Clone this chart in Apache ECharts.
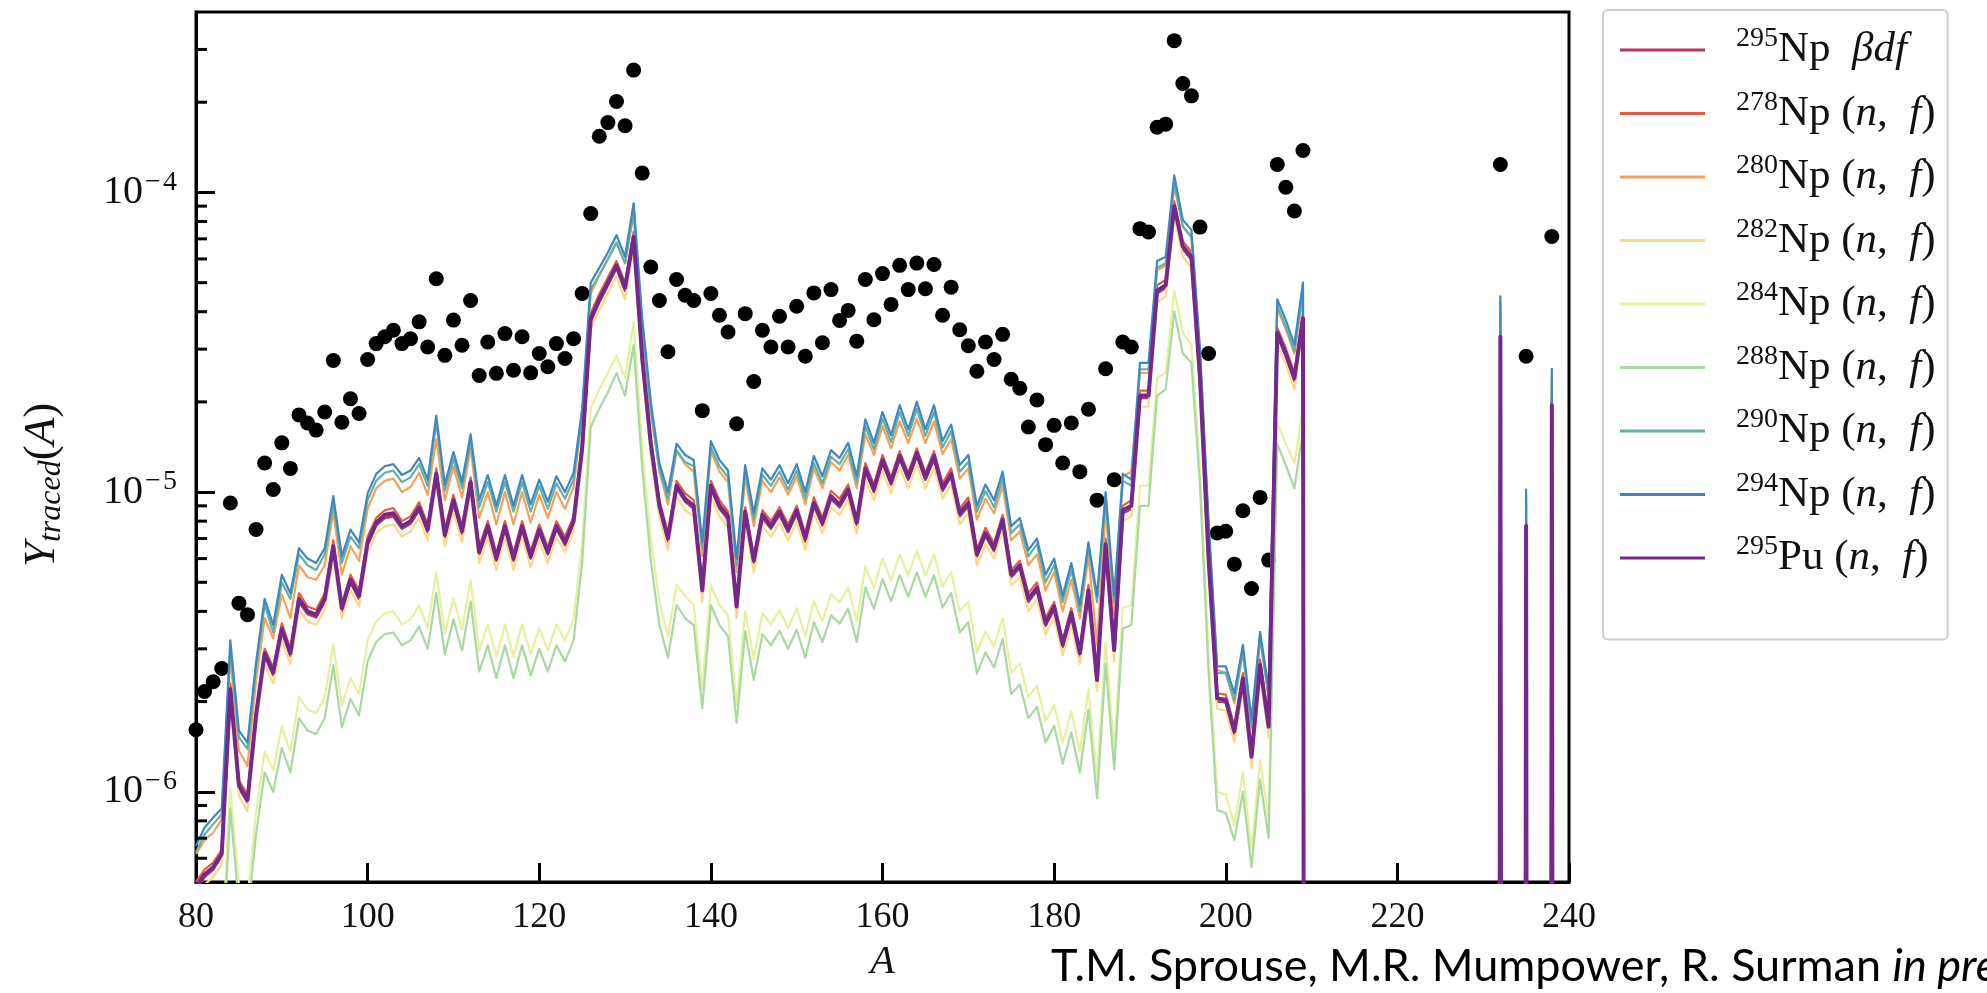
<!DOCTYPE html>
<html>
<head>
<meta charset="utf-8">
<title>Traced fission yields</title>
<script src="https://cdn.jsdelivr.net/npm/echarts@6/dist/echarts.min.js"></script>
<style>
  html, body { margin: 0; padding: 0; background: #fff; }
  #main { width: 1987px; height: 993px; }
</style>
</head>
<body>
<div id="main"></div>
<script>
// mass number A for the line series (210..231 is empty, lines drop to zero there)
const massNumbers = [
  80,81,82,83,84,85,86,87,88,89,
  90,91,92,93,94,95,96,97,98,99,
  100,101,102,103,104,105,106,107,108,109,
  110,111,112,113,114,115,116,117,118,119,
  120,121,122,123,124,125,126,127,128,129,
  130,131,132,133,134,135,136,137,138,139,
  140,141,142,143,144,145,146,147,148,149,
  150,151,152,153,154,155,156,157,158,159,
  160,161,162,163,164,165,166,167,168,169,
  170,171,172,173,174,175,176,177,178,179,
  180,181,182,183,184,185,186,187,188,189,
  190,191,192,193,194,195,196,197,198,199,
  200,201,202,203,204,205,206,207,208,209,
  210,231,232,233,234,235,236,237,238,239,240
];

// traced yields, in units of 1e-6 (0 = nothing)
const yNp295bdf = [
  0.47,0.52,0.55,0.61,2.15,1.03,0.92,1.76,2.84,2.45,
  3.43,2.84,4.3,3.92,3.82,4.3,6.45,4.0,5.0,4.4,
  6.65,7.75,8.2,8.3,7.55,7.85,8.7,7.35,11.3,7.05,
  9.2,7.25,10.6,6.2,7.55,5.9,7.55,5.9,7.55,6.0,
  7.35,6.2,7.55,6.65,7.85,13.7,37,43,49,56,
  47,69.5,27.4,14.2,8.8,6.85,10.3,9.3,8.8,4.6,
  10.3,8.8,8.1,4.07,8.4,5.8,8.2,7.55,8.4,7.35,
  8.5,6.85,9.0,7.75,9.5,8.9,10.0,7.75,11.8,10.0,
  12.5,10.6,12.9,11.0,13.2,11.0,12.9,10.1,11.3,8.3,
  9.0,6.1,7.15,6.35,7.95,5.2,5.6,4.3,4.7,3.58,
  4.07,3.04,3.87,2.84,4.6,2.31,6.55,2.91,8.5,8.8,
  20.6,20.6,46,48,88,64.7,59.8,23.5,5.9,2.0,
  1.99,1.56,2.34,1.28,2.6,1.62,33.3,28.4,23.5,37.2,
  0,0,32.3,0,0,7.5,0,0,20.5,0,0
];
const yNp278 = [
  0.5,0.55,0.58,0.64,2.3,1.09,0.98,1.87,3.0,2.6,
  3.65,3.0,4.6,4.15,4.05,4.6,6.9,4.25,5.3,4.7,
  7.1,8.2,8.7,8.85,8.0,8.3,9.25,7.8,12,7.5,
  9.8,7.7,11.2,6.55,8.0,6.25,8.0,6.25,8.0,6.35,
  7.8,6.55,8.0,7.1,8.3,14.6,39.5,45.8,52,59,
  50,74,29,15.1,9.4,7.3,10.9,9.9,9.4,4.9,
  10.9,9.4,8.6,4.3,8.9,6.1,8.7,8.0,8.9,7.8,
  9.0,7.3,9.6,8.2,10.1,9.5,10.6,8.2,12.5,10.6,
  13.3,11.2,13.7,11.6,14,11.6,13.7,10.7,12,8.8,
  9.6,6.45,7.6,6.75,8.4,5.5,5.9,4.6,5.0,3.8,
  4.3,3.2,4.1,3.0,4.9,2.45,7.0,3.1,9.0,9.4,
  21.8,21.8,49,51,93.5,68.6,63.4,25,6.2,2.13,
  2.11,1.65,2.49,1.36,2.76,1.72,35.4,30.2,25,39.5,
  0,0,34,0,0,8.0,0,0,19.8,0,0
];
const yNp280 = [
  0.62,0.69,0.73,0.81,2.85,1.37,1.22,2.35,3.8,3.25,
  4.55,3.8,5.7,5.2,5.1,5.7,8.6,5.3,6.6,5.9,
  8.8,10.3,10.9,11.1,10.0,10.4,11.6,9.8,15,9.4,
  12.2,9.6,14,8.2,10.0,7.8,10.0,7.8,10.0,7.9,
  9.8,8.2,10.0,8.8,10.4,18,46,53,60,68,
  58,85,35,18.5,11.7,9.1,13.7,12.4,11.7,6.1,
  13.7,11.7,10.8,5.4,11.2,7.7,10.9,10.0,11.2,9.8,
  11.3,9.1,12.0,10.3,12.6,11.8,13.3,10.3,15.6,13.3,
  16.6,14.0,17.2,14.6,17.6,14.6,17.2,13.4,15.0,11.1,
  12.0,8.1,9.5,8.5,10.5,6.9,7.4,5.7,6.2,4.7,
  5.4,4.0,5.1,3.8,6.1,3.1,8.7,3.9,11.3,11.7,
  25,25,55,57,105,77,71,28.5,7.5,2.55,
  2.5,1.97,2.95,1.62,3.3,2.05,41,35,29,46,
  0,0,40,0,0,9.3,0,0,23.5,0,0
];
const yNp282 = [
  0.44,0.49,0.52,0.57,2.0,0.97,0.86,1.65,2.67,2.3,
  3.2,2.67,4.05,3.7,3.6,4.05,6.1,3.8,4.7,4.15,
  6.25,7.3,7.7,7.8,7.1,7.4,8.2,6.9,10.6,6.6,
  8.6,6.8,9.9,5.8,7.1,5.5,7.1,5.5,7.1,5.6,
  6.9,5.8,7.1,6.3,7.4,12.9,35,40.5,46,52.5,
  44,65,25.8,13.3,8.3,6.4,9.7,8.7,8.3,4.3,
  9.7,8.3,7.6,3.8,7.9,5.4,7.7,7.1,7.9,6.9,
  8.0,6.4,8.5,7.3,8.9,8.4,9.4,7.3,11.0,9.4,
  11.8,9.9,12.1,10.3,12.4,10.3,12.1,9.5,10.6,7.8,
  8.5,5.7,6.7,6.0,7.5,4.9,5.2,4.0,4.4,3.35,
  3.8,2.85,3.6,2.67,4.3,2.17,6.2,2.73,8.0,8.3,
  19.3,19.3,43,45,83,61,56,22,5.5,1.89,
  1.87,1.46,2.2,1.2,2.44,1.52,31,26.7,22,35,
  0,0,30,0,0,7.1,0,0,18,0,0
];
const yNp284 = [
  0.23,0.25,0.26,0.29,1.03,0.49,0.44,0.85,1.36,1.18,
  1.65,1.36,2.07,1.88,1.83,2.07,3.1,1.93,2.4,2.12,
  3.2,3.7,3.95,4.0,3.62,3.76,4.18,3.52,5.4,3.38,
  4.42,3.48,5.08,2.96,3.62,2.82,3.62,2.82,3.62,2.87,
  3.52,2.96,3.62,3.2,3.76,6.8,19,22,25,28.5,
  24,37,14,7.0,4.3,3.3,4.9,4.5,4.2,2.2,
  4.9,4.2,3.9,1.95,4.0,2.77,3.95,3.62,4.04,3.52,
  4.1,3.3,4.32,3.71,4.56,4.28,4.8,3.71,5.64,4.8,
  6.0,5.08,6.2,5.26,6.35,5.26,6.2,4.84,5.4,4.0,
  4.32,2.91,3.43,3.05,3.8,2.5,2.68,2.07,2.26,1.72,
  1.95,1.46,1.86,1.36,2.2,1.11,3.15,1.4,4.1,4.2,
  10.5,10.5,24,25,47,34,31,12,2.9,1.0,
  0.98,0.77,1.16,0.64,1.28,0.8,17,14.5,12.5,19,
  0,0,16.5,0,0,3.8,0,0,9.7,0,0
];
const yNp288 = [
  0.19,0.21,0.22,0.25,0.88,0.42,0.38,0.72,1.16,1.0,
  1.4,1.16,1.76,1.6,1.56,1.76,2.64,1.64,2.04,1.8,
  2.72,3.16,3.36,3.4,3.08,3.2,3.56,3.0,4.6,2.88,
  3.76,2.96,4.32,2.52,3.08,2.4,3.08,2.4,3.08,2.44,
  3.0,2.52,3.08,2.72,3.2,5.8,16.5,19,21.5,25,
  21,31,12,5.9,3.6,2.8,4.2,3.8,3.6,1.9,
  4.2,3.6,3.3,1.7,3.44,2.36,3.36,3.08,3.44,3.0,
  3.48,2.8,3.68,3.16,3.88,3.64,4.08,3.16,4.8,4.08,
  5.12,4.32,5.28,4.48,5.4,4.48,5.28,4.12,4.6,3.4,
  3.68,2.48,2.92,2.6,3.24,2.12,2.28,1.76,1.92,1.46,
  1.66,1.24,1.58,1.16,1.88,0.95,2.68,1.19,3.5,3.6,
  9.0,9.0,21,22,40,29,27,10.5,2.5,0.87,
  0.85,0.69,1.0,0.56,1.1,0.7,14.5,12.3,10.3,16,
  0,0,14.5,0,0,3.3,0,0,8.4,0,0
];
const yNp290 = [
  0.63,0.72,0.78,0.84,3.0,1.52,1.39,2.6,4.2,3.4,
  5.0,4.4,6.2,5.7,5.5,6.2,9.2,5.8,7.1,6.5,
  9.4,10.9,11.6,11.8,10.8,11.2,12.4,10.5,17.1,10.1,
  12.9,10.3,14.8,8.9,10.8,8.6,10.8,8.6,10.8,8.6,
  10.5,8.8,10.7,9.5,11.0,18,47.5,53,60,68,
  58,87,36,19,11.9,9.5,13.8,12.6,12.2,6.5,
  14.1,12.2,11.2,5.7,11.7,8.1,11.4,10.5,11.7,10.2,
  11.8,9.5,12.5,10.7,13.1,12.4,13.9,10.7,16.6,13.9,
  17.6,14.7,18.5,15.4,19,15.4,18.5,14.1,16.0,11.7,
  12.6,8.6,10.1,8.9,11.1,7.3,7.8,6.1,6.7,5.0,
  5.7,4.3,5.5,4.0,6.5,4.3,9.5,4.3,10.9,10.5,
  25.7,25.7,56,58,108,77,71,28.5,7.6,2.49,
  2.49,2.02,2.94,1.65,3.25,2.09,42,35.6,29.5,47.5,
  0,0,43,0,0,9.7,0,0,24.5,0,0
];
const yNp294 = [
  0.66,0.76,0.82,0.88,3.2,1.6,1.46,2.7,4.4,3.6,
  5.3,4.6,6.5,6.0,5.8,6.5,9.7,6.1,7.5,6.8,
  9.9,11.5,12.2,12.4,11.4,11.8,13.0,11.0,18.0,10.6,
  13.6,10.8,15.6,9.4,11.4,9.0,11.4,9.0,11.4,9.1,
  11.0,9.3,11.3,10.0,11.6,19,50,56,63,72,
  61,92,38,20,12.5,10,14.5,13.3,12.8,6.8,
  14.8,12.8,11.8,6.0,12.3,8.5,12.0,11.0,12.3,10.7,
  12.4,10.0,13.2,11.3,13.8,13.0,14.6,11.3,17.5,14.6,
  18.5,15.5,19.5,16.2,20,16.2,19.5,14.8,16.8,12.3,
  13.3,9.0,10.6,9.4,11.7,7.7,8.2,6.4,7.0,5.3,
  6.0,4.5,5.8,4.2,6.8,4.5,10,4.5,11.5,11,
  27,27,59,61,114,81,75,30,8.0,2.62,
  2.62,2.13,3.09,1.74,3.42,2.2,44,37.5,31,50,
  0,0,45,0,0,10.2,0,0,25.8,0,0
];
const yPu295 = [
  0.48,0.53,0.56,0.62,2.2,1.05,0.94,1.8,2.9,2.5,
  3.5,2.9,4.4,4.0,3.9,4.4,6.6,4.1,5.1,4.5,
  6.8,7.9,8.4,8.5,7.7,8.0,8.9,7.5,11.5,7.2,
  9.4,7.4,10.8,6.3,7.7,6.0,7.7,6.0,7.7,6.1,
  7.5,6.3,7.7,6.8,8.0,14,38,44,50,57,
  48,71,28,14.5,9.0,7.0,10.5,9.5,9.0,4.7,
  10.5,9.0,8.3,4.15,8.6,5.9,8.4,7.7,8.6,7.5,
  8.7,7.0,9.2,7.9,9.7,9.1,10.2,7.9,12,10.2,
  12.8,10.8,13.2,11.2,13.5,11.2,13.2,10.3,11.5,8.5,
  9.2,6.2,7.3,6.5,8.1,5.3,5.7,4.4,4.8,3.65,
  4.15,3.1,3.95,2.9,4.7,2.36,6.7,2.97,8.7,9.0,
  21,21,47,49,90,66,61,24,6.0,2.05,
  2.03,1.59,2.39,1.31,2.65,1.65,34,29,24,38,
  0,0,33,0,0,7.7,0,0,19.5,0,0
];

// solar r-process residuals (black dots), units of 1e-6
const solarMass = [
  80,81,82,83,84,85,86,87,88,89,
  90,91,92,93,94,95,96,97,98,99,
  100,101,102,103,104,105,106,107,108,109,
  110,111,112,113,114,115,116,117,118,119,
  120,121,122,123,124,125,126,127,128,129,
  130,131,132,133,134,135,136,137,138,139,
  140,141,142,143,144,145,146,147,148,149,
  150,151,152,153,154,155,156,157,158,159,
  160,161,162,163,164,165,166,167,168,169,
  170,171,172,173,174,175,176,177,178,179,
  180,181,182,183,184,185,186,187,188,189,
  190,191,192,193,194,195,196,197,198,199,
  200,201,202,203,204,205,206,207,208,209,
  232,235,238
];
const solarYield = [
  1.61,2.16,2.33,2.58,9.2,4.26,3.9,7.5,12.5,10.2,
  14.6,12,18.1,17,16.1,18.5,27.5,17.1,20.5,18.3,
  27.7,31.3,33,34.7,31.3,32.5,37,30.5,51.5,28.6,
  37.5,30.9,43.6,24.5,31.7,24.9,33.8,25.5,33,25,
  29,26.2,31.3,27.9,32.5,46,85,154,171,201,
  167,256,116,56.4,43.6,29.4,51.2,45.4,43.6,18.7,
  46,38.9,34.2,16.9,39.4,23.4,34.7,30.5,38.6,30.5,
  41.7,28.4,46.2,31.5,47.4,37.4,40.4,31.9,51.2,37.6,
  53.6,42.3,57.1,47.4,58.1,47.7,57.5,38.9,48.3,34.8,
  30.8,25.3,31.7,27.7,33.6,23.8,22.2,16.5,20.3,14.4,
  16.7,12.5,17,11.7,18.9,9.4,25.8,11,31.7,30.5,
  75.7,73.8,165,169,321,231,210,76.6,29,7.3,
  7.4,5.75,8.67,4.77,9.6,5.93,124,104,86.7,138,
  124,28.4,71.3
];

// minor ticks of the log axis
const minorTickValues = [
  6e-7,7e-7,8e-7,9e-7,
  2e-6,3e-6,4e-6,5e-6,6e-6,7e-6,8e-6,9e-6,
  2e-5,3e-5,4e-5,5e-5,6e-5,7e-5,8e-5,9e-5,
  2e-4,3e-4
];

const isoMass = ['295','278','280','282','284','288','290','294','295'];
const isoElem = ['Np','Np','Np','Np','Np','Np','Np','Np','Pu'];
const isoReac = ['bdf','nf','nf','nf','nf','nf','nf','nf','nf'];
const lineData = [yNp295bdf, yNp278, yNp280, yNp282, yNp284, yNp288, yNp290, yNp294, yPu295];
const lineColors = ['#b8365c','#e45b3c','#f7a05a','#fbd98a','#e7f19d','#a9d8a2','#63b0a6','#3f88bf','#74288c'];
const lineWidths = [2.6, 2.2, 2.2, 2.2, 2.2, 2.2, 2.2, 2.2, 4];

const SERIF = "'Liberation Serif', 'DejaVu Serif', serif";
const INK = '#111';

const seriesNames = isoMass.map((m, i) => m + isoElem[i] + ' ' + isoReac[i]);
// zero yield sits far below the log axis, like a clipped value
const toYield = v => (v > 0 ? v * 1e-6 : 1e-30);

const lineSeries = lineData.map((arr, i) => ({
  name: seriesNames[i],
  type: 'line',
  data: arr.map((v, k) => [massNumbers[k], toYield(v)]),
  symbol: 'none',
  smooth: false,
  clip: true,
  color: lineColors[i],
  lineStyle: { color: lineColors[i], width: lineWidths[i], join: 'round' },
  z: 3,
  silent: true
}));

const chart = echarts.init(document.getElementById('main'), null, { renderer: 'canvas' });

const option = {
  animation: false,
  backgroundColor: '#fff',
  grid: {
    left: 196, top: 12, width: 1373, height: 870,
    containLabel: false, outerBoundsMode: 'none',
    show: true, borderColor: '#000', borderWidth: 3, backgroundColor: 'transparent'
  },
  xAxis: {
    type: 'value', min: 80, max: 240, interval: 20,
    axisLine: { show: true, onZero: false, lineStyle: { color: '#000', width: 3 } },
    axisTick: { show: true, inside: true, length: 19, lineStyle: { color: '#000', width: 3 } },
    splitLine: { show: false },
    axisLabel: { color: INK, fontFamily: SERIF, fontSize: 36, margin: 18 },
    name: 'A', nameLocation: 'middle', nameGap: 60,
    nameTextStyle: { color: INK, fontFamily: SERIF, fontSize: 40, fontStyle: 'italic' }
  },
  yAxis: {
    type: 'log', logBase: 10, min: 5e-7, max: 4e-4,
    axisLine: { show: true, lineStyle: { color: '#000', width: 3 } },
    axisTick: { show: true, inside: true, length: 19, lineStyle: { color: '#000', width: 3 } },
    minorTick: { show: false },
    splitLine: { show: false },
    axisLabel: {
      margin: 19, showMinLabel: false, showMaxLabel: false,
      formatter: function (v) {
        const lg = Math.log10(v);
        const e = Math.round(lg);
        if (Math.abs(lg - e) > 0.01) return '';
        return '{b|10}{m|−}{s|' + Math.abs(e) + '}';
      },
      rich: {
        b: { fontFamily: SERIF, fontSize: 40, lineHeight: 48, color: INK },
        m: { fontFamily: SERIF, fontSize: 28, lineHeight: 28, width: 20, align: 'center', verticalAlign: 'top', color: INK },
        s: { fontFamily: SERIF, fontSize: 28, lineHeight: 28, verticalAlign: 'top', color: INK }
      }
    },
    name: '{it|Y}{sub|traced}{rm|(}{it|A}{rm|)}',
    nameLocation: 'middle', nameGap: 128, nameRotate: 90,
    nameTextStyle: {
      padding: [0, 76, 0, 0],
      rich: {
        it: { fontFamily: SERIF, fontSize: 45, fontStyle: 'italic', lineHeight: 52, color: INK },
        rm: { fontFamily: SERIF, fontSize: 45, lineHeight: 52, color: INK },
        sub: { fontFamily: SERIF, fontSize: 32, fontStyle: 'italic', lineHeight: 32, verticalAlign: 'bottom', color: INK }
      }
    }
  },
  legend: {
    data: seriesNames,
    orient: 'vertical', left: 1603, top: 10,
    padding: [15, 12, 60, 17],
    itemWidth: 85, itemHeight: 3, itemGap: 17, icon: 'rect',
    selectedMode: false,
    backgroundColor: '#fff', borderColor: '#cfcfcf', borderWidth: 2, borderRadius: 5,
    formatter: function (name) {
      const i = seriesNames.indexOf(name);
      let s = '{sup|' + isoMass[i] + '}{rm|' + isoElem[i] + '}';
      if (isoReac[i] === 'bdf') s += '{rm|  }{it|βdf}';
      else s += '{rm| (}{it|n}{rm|,  }{it|f}{rm|)}';
      return s;
    },
    textStyle: {
      padding: [0, 0, 0, 26],
      rich: {
        sup: { fontFamily: SERIF, fontSize: 28, lineHeight: 28, verticalAlign: 'top', color: INK },
        rm: { fontFamily: SERIF, fontSize: 43, lineHeight: 50, color: INK },
        it: { fontFamily: SERIF, fontSize: 43, lineHeight: 50, fontStyle: 'italic', color: INK }
      }
    }
  },
  graphic: [{
    type: 'text', left: 1051, top: 944, z: 10,
    style: {
      text: '{n|T.M. Sprouse, M.R. Mumpower, R. Surman }{i|in prep.}',
      rich: {
        n: { fontFamily: 'Lato', fontSize: 45, fill: '#000' },
        i: { fontFamily: 'Lato', fontSize: 45, fontStyle: 'italic', fill: '#000' }
      }
    }
  }],
  series: [
    {
      name: 'solar', type: 'scatter',
      data: solarMass.map((a, k) => [a, toYield(solarYield[k])]),
      symbol: 'circle', symbolSize: 15,
      itemStyle: { color: '#000', opacity: 1 },
      z: 2, silent: true
    }
  ].concat(lineSeries).concat([{
    name: 'minor ticks', type: 'custom', coordinateSystem: 'cartesian2d',
    data: minorTickValues.map(v => [80, v]),
    silent: true, clip: false, z: 6,
    renderItem: function (params, api) {
      const p = api.coord([api.value(0), api.value(1)]);
      return {
        type: 'line',
        shape: { x1: p[0], y1: p[1], x2: p[0] + 11, y2: p[1] },
        style: { stroke: '#000', lineWidth: 3 }
      };
    }
  }])
};

chart.setOption(option);
</script>
</body>
</html>
